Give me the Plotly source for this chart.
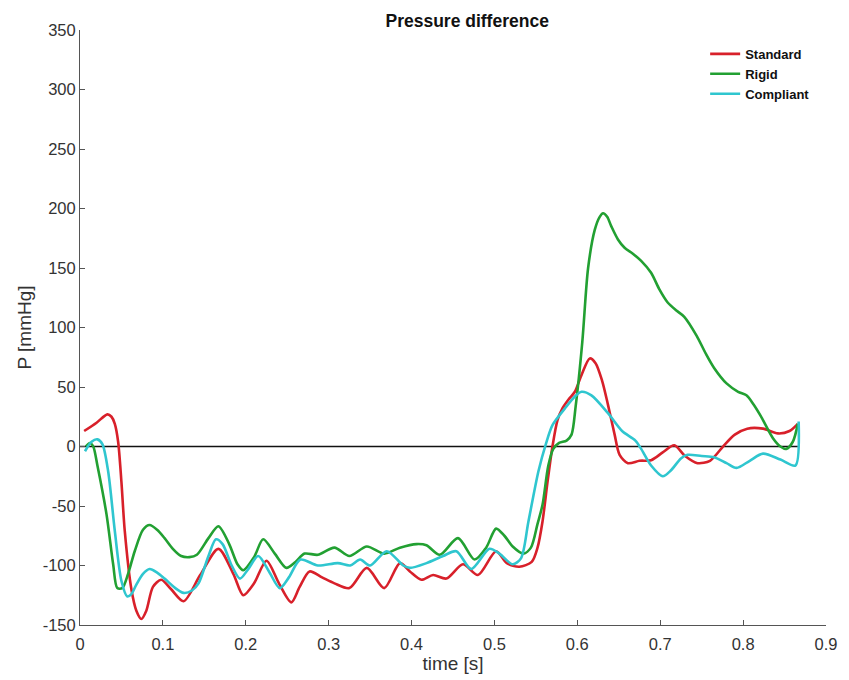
import plotly.graph_objects as go

# Time samples [s] and pressure difference [mmHg] for each valve model
t_standard = [0.005, 0.02, 0.033, 0.038, 0.042, 0.046, 0.05, 0.054, 0.062, 0.068, 0.074, 0.08, 0.088,
              0.098, 0.11, 0.125, 0.145, 0.167, 0.185, 0.197, 0.21, 0.225, 0.24, 0.255, 0.265,
              0.277, 0.292, 0.307, 0.325, 0.346, 0.367, 0.386, 0.398, 0.412, 0.426, 0.442, 0.462,
              0.48, 0.502, 0.515, 0.53, 0.545, 0.552, 0.558, 0.564, 0.57, 0.576, 0.582, 0.59,
              0.597, 0.605, 0.615, 0.622, 0.63, 0.637, 0.645, 0.651, 0.661, 0.675, 0.689, 0.703,
              0.717, 0.73, 0.745, 0.76, 0.777, 0.79, 0.805, 0.824, 0.842, 0.856, 0.866]
p_standard = [13, 20, 27, 25, 19, 4, -30, -71, -120, -138, -145, -138, -118,
              -112, -120, -130, -108, -86, -107, -125, -115, -96, -115, -131, -118,
              -105, -110, -115, -119, -102, -119, -98, -105, -112, -108, -111, -99,
              -108, -88, -98, -101, -97, -85, -63, -30, 0, 22, 32, 40,
              46, 60, 74, 70, 55, 35, 10, -7, -14, -12, -11.5, -5,
              1, -8, -14, -12, 1, 10, 15, 15, 11, 13, 19]

t_rigid = [0.007, 0.012, 0.016, 0.021, 0.032, 0.04, 0.045, 0.051, 0.058, 0.066, 0.076, 0.084,
           0.093, 0.102, 0.112, 0.122, 0.132, 0.141, 0.155, 0.167, 0.18, 0.19, 0.197, 0.21,
           0.221, 0.235, 0.249, 0.26, 0.271, 0.287, 0.307, 0.325, 0.346, 0.367, 0.386, 0.406,
           0.418, 0.434, 0.456, 0.476, 0.49, 0.502, 0.512, 0.522, 0.535, 0.544, 0.552, 0.558,
           0.565, 0.571, 0.578, 0.587, 0.593, 0.598, 0.606, 0.613, 0.621, 0.627, 0.631, 0.636,
           0.641, 0.649, 0.657, 0.667, 0.677, 0.689, 0.699, 0.709, 0.72, 0.729, 0.744, 0.755,
           0.765, 0.78, 0.794, 0.804, 0.812, 0.821, 0.836, 0.845, 0.852, 0.86, 0.866]
p_rigid = [0, 3, 0, -16, -57, -99, -119, -119, -107, -88, -70, -66,
           -70, -77, -86, -92, -93, -91, -77, -67, -82, -99, -104, -93,
           -78, -90, -102, -97, -90, -91, -85, -92, -84, -90, -85, -82,
           -83, -91, -77, -95, -85, -69, -75, -84, -90, -85, -65, -49,
           -16, -2, 3, 5, 10, 34, 88, 150, 182, 193, 196, 193,
           185, 174, 167, 162, 156, 146, 132, 121, 114, 109, 93, 78,
           66, 53, 46, 43, 36, 26, 7, 0, -2, 4, 19]

t_compliant = [0.006, 0.014, 0.021, 0.027, 0.034, 0.042, 0.05, 0.057, 0.062, 0.068, 0.076, 0.084,
               0.093, 0.102, 0.115, 0.125, 0.135, 0.143, 0.155, 0.164, 0.172, 0.183, 0.193, 0.203,
               0.215, 0.228, 0.241, 0.252, 0.266, 0.287, 0.311, 0.326, 0.338, 0.35, 0.37, 0.39,
               0.398, 0.418, 0.438, 0.454, 0.472, 0.494, 0.506, 0.522, 0.532, 0.541, 0.553, 0.562,
               0.57, 0.585, 0.597, 0.605, 0.617, 0.637, 0.654, 0.67, 0.677, 0.689, 0.703, 0.713,
               0.725, 0.733, 0.75, 0.765, 0.78, 0.792, 0.808, 0.824, 0.845, 0.863, 0.867]
p_compliant = [-4, 4, 6, 2, -21, -71, -113, -126, -124, -116, -107, -103,
               -106, -111, -119, -123, -121, -115, -92, -78, -82, -100, -111, -103,
               -92, -105, -119, -110, -95, -100, -98, -100, -95, -100, -88, -100,
               -102, -98, -92, -88, -103, -86, -90, -99, -94, -63, -21, 2,
               18, 32, 42, 46, 43, 28, 13, 5, -2, -16, -25, -20,
               -10, -7, -8, -9, -14, -18, -12, -6, -11, -16, 21]

# Zero reference line
t_zero = [0.0, 0.866]
p_zero = [0, 0]

# Axis ticks
y_ticks = [-150, -100, -50, 0, 50, 100, 150, 200, 250, 300, 350]
y_tick_labels = ["-150", "-100", "-50", "0", "50", "100", "150", "200", "250", "300", "350"]

series = [
    ("Standard", t_standard, p_standard, "#d8202a"),
    ("Rigid", t_rigid, p_rigid, "#22a032"),
    ("Compliant", t_compliant, p_compliant, "#2fc6cf"),
]

fig = go.Figure()
fig.add_trace(go.Scatter(x=t_zero, y=p_zero, mode="lines", showlegend=False,
                         line=dict(color="#111111", width=1.5), hoverinfo="skip"))
for name, t, p, color in series:
    fig.add_trace(go.Scatter(
        x=t, y=p, mode="lines", name=f"<b>{name}</b>",
        line=dict(color=color, width=2.6, shape="spline", smoothing=0.8),
    ))

FONT = "Liberation Sans, Arial, sans-serif"

axis_common = dict(
    showline=True, linecolor="#555555", linewidth=1, mirror=False,
    ticks="inside", ticklen=5, tickcolor="#555555",
    showgrid=False, zeroline=False,
    tickfont=dict(family=FONT, size=16.5, color="#333333"),
)

fig.update_layout(
    width=849, height=680,
    margin=dict(l=80, r=17, t=30, b=53),
    plot_bgcolor="white", paper_bgcolor="white",
    font=dict(family=FONT, color="#222222"),
    title=dict(text="<b>Pressure difference</b>", x=0.519, xref="paper", xanchor="center",
               y=1 - 21 / 680, yanchor="middle",
               font=dict(size=17.5, color="#111111")),
    xaxis=dict(range=[0, 0.9], dtick=0.1, tick0=0, ticklabelstandoff=4,
               title=dict(text="time [s]", font=dict(size=19, color="#333333"), standoff=2),
               **axis_common),
    yaxis=dict(range=[-150, 350], tickmode="array", tickvals=y_ticks, ticktext=y_tick_labels,
               title=dict(text="P [mmHg]", font=dict(size=19, color="#333333"), standoff=6),
               **axis_common),
    legend=dict(x=0.838, y=0.985, xanchor="left", yanchor="top",
                bgcolor="rgba(0,0,0,0)", borderwidth=0,
                font=dict(size=13, color="#111111"), tracegroupgap=0),
)

fig.write_html("out.html")
